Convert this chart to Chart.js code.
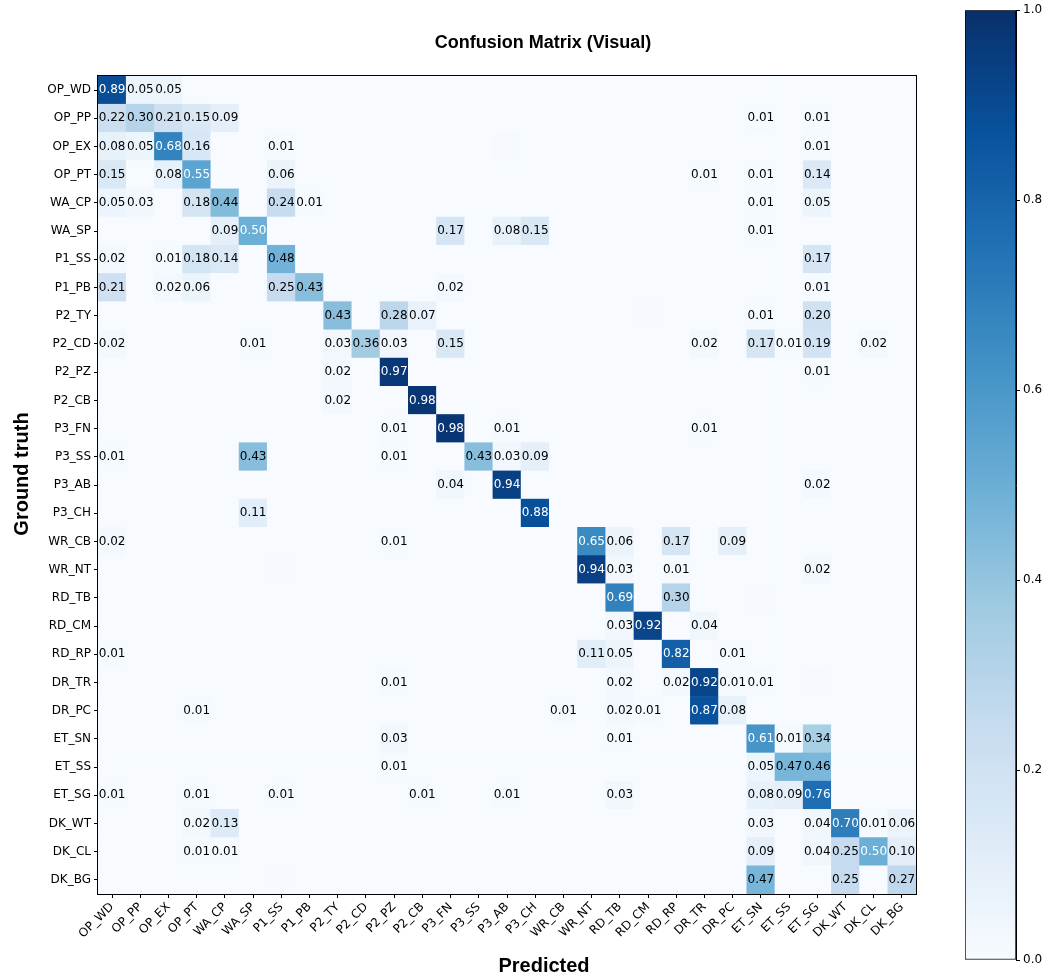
<!DOCTYPE html>
<html>
<head>
<meta charset="utf-8">
<script src="https://cdn.jsdelivr.net/npm/chart.js@4.4.0/dist/chart.umd.min.js"></script>
<style>
  body { margin: 0; background: #fff; }
  #main { position: absolute; left: 0; top: 0; }
  #cbar { position: absolute; left: 940px; top: 0; }
</style>
</head>
<body>
<canvas id="main" width="940" height="978"></canvas>
<canvas id="cbar" width="109" height="978"></canvas>
<script>
// class names (rows = ground truth, columns = predicted)
const labels = ['OP_WD', 'OP_PP', 'OP_EX', 'OP_PT', 'WA_CP', 'WA_SP', 'P1_SS', 'P1_PB', 'P2_TY', 'P2_CD',
    'P2_PZ', 'P2_CB', 'P3_FN', 'P3_SS', 'P3_AB', 'P3_CH', 'WR_CB', 'WR_NT', 'RD_TB', 'RD_CM',
    'RD_RP', 'DR_TR', 'DR_PC', 'ET_SN', 'ET_SS', 'ET_SG', 'DK_WT', 'DK_CL', 'DK_BG'];

// normalized confusion matrix, one row per ground-truth class
const cm = [
    [0.89, 0.05, 0.05, 0, 0, 0, 0, 0, 0, 0,   0, 0, 0, 0, 0, 0, 0, 0, 0, 0,   0, 0, 0, 0, 0, 0, 0, 0, 0],
    [0.22, 0.30, 0.21, 0.15, 0.09, 0, 0, 0, 0, 0,   0, 0, 0, 0, 0, 0, 0, 0, 0, 0,   0, 0, 0, 0.01, 0, 0.01, 0, 0, 0],
    [0.08, 0.05, 0.68, 0.16, 0, 0, 0.01, 0, 0, 0,   0, 0, 0, 0, 0.004, 0, 0, 0, 0, 0,   0, 0, 0, 0, 0, 0.01, 0, 0, 0],
    [0.15, 0, 0.08, 0.55, 0, 0, 0.06, 0, 0, 0,   0, 0, 0, 0, 0, 0, 0, 0, 0, 0,   0, 0.01, 0, 0.01, 0, 0.14, 0, 0, 0],
    [0.05, 0.03, 0, 0.18, 0.44, 0, 0.24, 0.01, 0, 0,   0, 0, 0, 0, 0, 0, 0, 0, 0, 0,   0, 0, 0, 0.01, 0, 0.05, 0, 0, 0],
    [0, 0, 0, 0, 0.09, 0.50, 0, 0, 0, 0,   0, 0, 0.17, 0, 0.08, 0.15, 0, 0, 0, 0,   0, 0, 0, 0.01, 0, 0, 0, 0, 0],
    [0.02, 0, 0.01, 0.18, 0.14, 0, 0.48, 0, 0, 0,   0, 0, 0, 0, 0, 0, 0, 0, 0, 0,   0, 0, 0, 0, 0, 0.17, 0, 0, 0],
    [0.21, 0, 0.02, 0.06, 0, 0, 0.25, 0.43, 0, 0,   0, 0, 0.02, 0, 0, 0, 0, 0, 0, 0,   0, 0, 0, 0, 0, 0.01, 0, 0, 0],
    [0, 0, 0, 0, 0, 0, 0, 0, 0.43, 0,   0.28, 0.07, 0, 0, 0, 0, 0, 0, 0, 0.004,   0, 0, 0, 0.01, 0, 0.20, 0, 0, 0],
    [0.02, 0, 0, 0, 0, 0.01, 0, 0, 0.03, 0.36,   0.03, 0, 0.15, 0, 0, 0, 0, 0, 0, 0,   0, 0.02, 0, 0.17, 0.01, 0.19, 0, 0.02, 0],
    [0, 0, 0, 0, 0, 0, 0, 0, 0.02, 0,   0.97, 0, 0, 0, 0, 0, 0, 0, 0, 0,   0, 0, 0, 0, 0, 0.01, 0, 0, 0],
    [0, 0, 0, 0, 0, 0, 0, 0, 0.02, 0,   0, 0.98, 0, 0, 0, 0, 0, 0, 0, 0,   0, 0, 0, 0, 0, 0, 0, 0, 0],
    [0, 0, 0, 0, 0, 0, 0, 0, 0, 0,   0.01, 0, 0.98, 0, 0.01, 0, 0, 0, 0, 0,   0, 0.01, 0, 0, 0, 0, 0, 0, 0],
    [0.01, 0, 0, 0, 0, 0.43, 0, 0, 0, 0,   0.01, 0, 0, 0.43, 0.03, 0.09, 0, 0, 0, 0,   0, 0, 0, 0, 0, 0, 0, 0, 0],
    [0, 0, 0, 0, 0, 0, 0, 0, 0, 0,   0, 0, 0.04, 0, 0.94, 0, 0, 0, 0, 0,   0, 0, 0, 0, 0, 0.02, 0, 0, 0],
    [0, 0, 0, 0, 0, 0.11, 0, 0, 0, 0,   0, 0, 0, 0, 0, 0.88, 0, 0, 0, 0,   0, 0, 0, 0, 0, 0, 0, 0, 0],
    [0.02, 0, 0, 0, 0, 0, 0, 0, 0, 0,   0.01, 0, 0, 0, 0, 0, 0, 0.65, 0.06, 0,   0.17, 0, 0.09, 0, 0, 0, 0, 0, 0],
    [0, 0, 0, 0, 0, 0, 0.004, 0, 0, 0,   0, 0, 0, 0, 0, 0, 0, 0.94, 0.03, 0,   0.01, 0, 0, 0, 0, 0.02, 0, 0, 0],
    [0, 0, 0, 0, 0, 0, 0, 0, 0, 0,   0, 0, 0, 0, 0, 0, 0, 0, 0.69, 0,   0.30, 0, 0, 0.004, 0, 0, 0, 0, 0],
    [0, 0, 0, 0, 0, 0, 0, 0, 0, 0,   0, 0, 0, 0, 0, 0, 0, 0, 0.03, 0.92,   0, 0.04, 0, 0, 0, 0, 0, 0, 0],
    [0.01, 0, 0, 0, 0, 0, 0, 0, 0, 0,   0, 0, 0, 0, 0, 0, 0, 0.11, 0.05, 0,   0.82, 0, 0.01, 0, 0, 0, 0, 0, 0],
    [0, 0, 0, 0, 0, 0, 0, 0, 0, 0,   0.01, 0, 0, 0, 0, 0, 0, 0, 0.02, 0,   0.02, 0.92, 0.01, 0.01, 0, 0.004, 0, 0, 0],
    [0, 0, 0, 0.01, 0, 0, 0, 0, 0, 0,   0, 0, 0, 0, 0, 0, 0.01, 0, 0.02, 0.01,   0, 0.87, 0.08, 0, 0, 0, 0, 0, 0],
    [0, 0, 0, 0, 0, 0, 0, 0, 0, 0,   0.03, 0, 0, 0, 0, 0, 0, 0, 0.01, 0,   0, 0, 0, 0.61, 0.01, 0.34, 0, 0, 0],
    [0, 0, 0, 0, 0, 0, 0, 0, 0, 0,   0.01, 0, 0, 0, 0, 0, 0, 0, 0, 0,   0, 0, 0, 0.05, 0.47, 0.46, 0, 0, 0],
    [0.01, 0, 0, 0.01, 0, 0, 0.01, 0, 0, 0,   0, 0.01, 0, 0, 0.01, 0, 0, 0, 0.03, 0,   0, 0, 0, 0.08, 0.09, 0.76, 0, 0, 0],
    [0, 0, 0, 0.02, 0.13, 0, 0, 0, 0, 0,   0, 0, 0, 0, 0, 0, 0, 0, 0, 0,   0, 0, 0, 0.03, 0, 0.04, 0.70, 0.01, 0.06],
    [0, 0, 0, 0.01, 0.01, 0, 0, 0, 0, 0,   0, 0, 0, 0, 0, 0, 0, 0, 0, 0,   0, 0, 0, 0.09, 0, 0.04, 0.25, 0.50, 0.10],
    [0, 0, 0, 0, 0, 0, 0.004, 0, 0, 0,   0, 0, 0, 0, 0, 0, 0, 0, 0, 0,   0, 0, 0, 0.47, 0, 0, 0.25, 0, 0.27]
];

const cbarTicks = [0, 0.2, 0.4, 0.6, 0.8, 1.0];

// matplotlib "Blues"
const bluesStops = ['#f7fbff', '#deebf7', '#c6dbef', '#9ecae1', '#6baed6', '#4292c6', '#2171b5', '#08519c', '#08306b'];

function hexToRgb(h) {
    return [parseInt(h.slice(1, 3), 16), parseInt(h.slice(3, 5), 16), parseInt(h.slice(5, 7), 16)];
}

function blues(v) {
    v = Math.max(0, Math.min(1, v));
    const t = v * 8;
    const i = Math.min(7, Math.floor(t));
    const f = t - i;
    const a = hexToRgb(bluesStops[i]), b = hexToRgb(bluesStops[i + 1]);
    const c = a.map((x, k) => Math.round(x + (b[k] - x) * f));
    return `rgb(${c[0]},${c[1]},${c[2]})`;
}

const cells = [];
cm.forEach((row, r) => row.forEach((v, c) => cells.push({ x: c, y: r, v: v })));

const tickFont = { family: 'DejaVu Sans', size: 12 };

function cellSide(chart) {
    const xs = chart.scales.x;
    return Math.abs(xs.getPixelForValue(1) - xs.getPixelForValue(0));
}

// value text in every cell
const cellText = {
    id: 'cellText',
    afterDatasetsDraw(chart) {
        const ctx = chart.ctx;
        const xs = chart.scales.x, ys = chart.scales.y;
        ctx.save();
        ctx.font = '12px "DejaVu Sans"';
        ctx.textAlign = 'center';
        ctx.textBaseline = 'middle';
        cells.forEach(p => {
            if (p.v < 0.005) return;
            ctx.fillStyle = p.v > 0.49 ? '#ffffff' : '#000000';
            ctx.fillText(p.v.toFixed(2), xs.getPixelForValue(p.x), ys.getPixelForValue(p.y));
        });
        ctx.restore();
    }
};

// frame, title and axis titles
const decor = {
    id: 'decor',
    afterDraw(chart) {
        const ctx = chart.ctx;
        const a = chart.chartArea;
        ctx.save();
        ctx.strokeStyle = '#000';
        ctx.lineWidth = 1;
        ctx.strokeRect(Math.round(a.left) - 0.5, Math.round(a.top) - 0.5, Math.round(a.right - a.left) + 1, Math.round(a.bottom - a.top) + 1);

        ctx.fillStyle = '#000';
        ctx.textAlign = 'center';
        ctx.textBaseline = 'middle';
        ctx.font = 'bold 18px "Liberation Sans", Arial, sans-serif';
        ctx.fillText('Confusion Matrix (Visual)', 543, 43);

        ctx.font = 'bold 20px "Liberation Sans", Arial, sans-serif';
        ctx.fillText('Predicted', 544, 966);

        ctx.translate(22, 474);
        ctx.rotate(-Math.PI / 2);
        ctx.fillText('Ground truth', 0, 0);
        ctx.restore();
    }
};

new Chart(document.getElementById('main'), {
    type: 'scatter',
    data: {
        datasets: [{
            data: cells,
            pointStyle: 'rect',
            borderWidth: 0,
            backgroundColor: ctx => blues(ctx.raw ? ctx.raw.v : 0),
            pointRadius: ctx => (cellSide(ctx.chart) + 0.6) / Math.SQRT2,
            pointHoverRadius: ctx => (cellSide(ctx.chart) + 0.6) / Math.SQRT2
        }]
    },
    options: {
        responsive: false,
        animation: false,
        events: [],
        layout: { padding: { top: 76, right: 24, left: 0, bottom: 0 } },
        plugins: {
            legend: { display: false },
            tooltip: { enabled: false }
        },
        scales: {
            x: {
                type: 'linear',
                min: -0.5,
                max: 28.5,
                afterBuildTicks: s => { s.ticks = labels.map((_, i) => ({ value: i })); },
                afterFit: s => { s.height = 84; },
                ticks: {
                    autoSkip: false,
                    minRotation: 45,
                    maxRotation: 45,
                    padding: 2,
                    color: '#000',
                    font: tickFont,
                    callback: v => labels[v]
                },
                grid: { drawOnChartArea: false, drawTicks: true, tickLength: 4, color: '#000' },
                border: { display: true, color: '#000' }
            },
            y: {
                type: 'linear',
                reverse: true,
                min: -0.5,
                max: 28.5,
                afterBuildTicks: s => { s.ticks = labels.map((_, i) => ({ value: i })); },
                afterFit: s => { s.width = 98; },
                ticks: {
                    autoSkip: false,
                    padding: 3,
                    color: '#000',
                    font: tickFont,
                    callback: v => labels[v]
                },
                grid: { drawOnChartArea: false, drawTicks: true, tickLength: 4, color: '#000' },
                border: { display: true, color: '#000' }
            }
        }
    },
    plugins: [cellText, decor]
});

// colorbar
new Chart(document.getElementById('cbar'), {
    type: 'bar',
    data: {
        labels: [''],
        datasets: [{
            data: [[0, 1]],
            barPercentage: 1,
            categoryPercentage: 1,
            borderWidth: 1,
            borderColor: '#000',
            borderSkipped: false,
            backgroundColor: ctx => {
                const a = ctx.chart.chartArea;
                if (!a) return bluesStops[0];
                const g = ctx.chart.ctx.createLinearGradient(0, a.bottom, 0, a.top);
                bluesStops.forEach((c, i) => g.addColorStop(i / 8, c));
                return g;
            }
        }]
    },
    options: {
        responsive: false,
        animation: false,
        events: [],
        layout: { padding: { top: 8, left: 25, right: 0, bottom: 18 } },
        plugins: {
            legend: { display: false },
            tooltip: { enabled: false }
        },
        scales: {
            x: { display: false },
            y: {
                position: 'right',
                min: 0,
                max: 1,
                afterBuildTicks: s => { s.ticks = cbarTicks.map(v => ({ value: v })); },
                afterFit: s => { s.width = 33; },
                ticks: {
                    padding: 3,
                    color: '#000',
                    font: tickFont,
                    callback: v => v.toFixed(1)
                },
                grid: { drawOnChartArea: false, drawTicks: true, tickLength: 4, color: '#000' },
                border: { display: true, color: '#000' }
            }
        }
    }
});
</script>
</body>
</html>
